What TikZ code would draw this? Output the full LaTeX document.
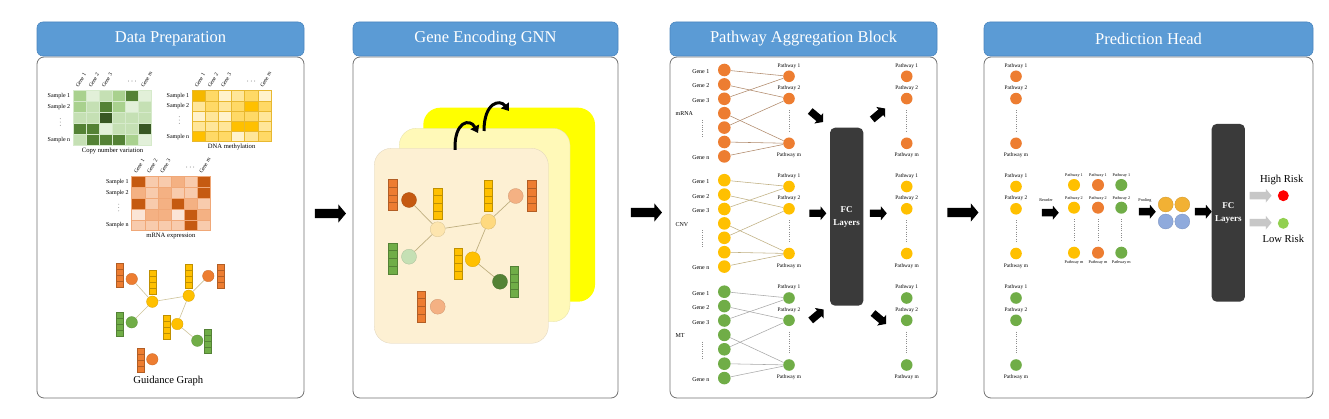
\documentclass[tikz,border=0pt]{standalone}
\usepackage{fontspec}
\setmainfont{Liberation Serif}
\usetikzlibrary{shapes.arrows,arrows.meta,calc}

\definecolor{hdrblue}{HTML}{5B9BD5}
\definecolor{hdredge}{HTML}{4A86C0}
\definecolor{cOr}{HTML}{ED7D31}
\definecolor{cYe}{HTML}{FFC000}
\definecolor{cGr}{HTML}{70AD47}
\definecolor{cnv1}{HTML}{E2F0D9}
\definecolor{cnv2}{HTML}{C5E0B4}
\definecolor{cnv3}{HTML}{A9D18E}
\definecolor{cnv4}{HTML}{548235}
\definecolor{cnv5}{HTML}{385723}
\definecolor{cnvline}{HTML}{D6EACB}
\definecolor{dna1}{HTML}{FFF2CC}
\definecolor{dna2}{HTML}{FFE699}
\definecolor{dna3}{HTML}{FFD966}
\definecolor{dna4}{HTML}{FFC000}
\definecolor{dna5}{HTML}{F5B800}
\definecolor{dnaline}{HTML}{E8B830}
\definecolor{mrna1}{HTML}{FBE5D6}
\definecolor{mrna2}{HTML}{F8CBAD}
\definecolor{mrna3}{HTML}{F4B183}
\definecolor{mrna4}{HTML}{ED7D31}
\definecolor{mrna5}{HTML}{C55A11}
\definecolor{mrnaline}{HTML}{F0A878}
\definecolor{fcgray}{HTML}{3A3A3A}
\definecolor{edgetan}{HTML}{CFC49A}
\definecolor{edgebrown}{HTML}{B0896A}
\definecolor{edgeolive}{HTML}{BFAF80}
\definecolor{edgegray}{HTML}{A8A8A8}
\definecolor{layerback}{HTML}{FFFF00}
\definecolor{layermid}{HTML}{FFF9B8}
\definecolor{layerfront}{HTML}{FDF0D3}
\definecolor{darkor}{HTML}{C55A11}
\definecolor{pinkor}{HTML}{F4B183}
\definecolor{palegr}{HTML}{C5E0B4}
\definecolor{darkgr}{HTML}{548235}
\definecolor{paleye}{HTML}{FDE5AE}
\definecolor{midye}{HTML}{FED97F}
\definecolor{poolgold}{HTML}{F2B134}
\definecolor{poolblue}{HTML}{8FAADC}
\definecolor{riskred}{HTML}{FF0000}
\definecolor{riskgreen}{HTML}{92D050}

\newcommand{\heatmap}[6]{%
  \foreach \rowv [count=\hr] in {#6} {
    \foreach \v [count=\hc] in \rowv {
      \filldraw[fill=#5\v, draw=#5line, line width=0.45pt]
        ({#1+(\hc-1)*#3},{#2+(\hr-1)*#4}) rectangle ++(#3,#4);
    }}%
}
\newcommand{\hmlabels}[6]{%
  \node[lbl, anchor=east] (#1s1) at ({#2-2.5},{#3+0.5*#5}) {Sample 1};
  \node[lbl, anchor=east] (#1s2) at ({#2-2.5},{#3+1.5*#5}) {Sample 2};
  \node[lbl, anchor=east] (#1sn) at ({#2-2.5},{#3+4.5*#5}) {Sample n};
  \foreach \k in {0,1,2} \fill[black!55] ({#2-13},{#3+2.55*#5+\k*3.3}) circle (0.45);
  \node[collbl] (#1c1) at ({#2+0.5*#4-1.5},{#3-2.5}) {Gene 1};
  \node[collbl] (#1c2) at ({#2+1.5*#4-1.5},{#3-2.5}) {Gene 2};
  \node[collbl] (#1c3) at ({#2+2.5*#4-1.5},{#3-2.5}) {Gene 3};
  \node[collbl] (#1cm) at ({#2+5.5*#4-1.5},{#3-2.5}) {Gene m};
  \node[lbl] (#1cd) at ({#2+4.5*#4},{#3-8}) {· · ·};
  \node[caplbl] (#1cap) at ({#2+3*#4},{#3+5*#5+5.5}) {#6};
}
\newcommand{\vbar}[5]{%
  \foreach \k in {0,1,2,3}
    \filldraw[fill=#5, draw=#5!75!black, line width=0.25pt] (#1,{#2+\k*#4/4}) rectangle ++(#3,{#4/4});
}
\newcommand{\pwcol}[4]{%
  \node[pwn, fill=#4] (#11) at (#2,{#3+6.3}) {};
  \node[pwn, fill=#4] (#12) at (#2,{#3+28.6}) {};
  \node[pwn, fill=#4] (#1m) at (#2,{#3+73.3}) {};
  \node[pwlbl] (#1l1) at (#2,{#3-4.2}) {Pathway 1};
  \node[pwlbl] (#1l2) at (#2,{#3+18.3}) {Pathway 2};
  \node[pwlbl] (#1lm) at (#2,{#3+85.7}) {Pathway m};
  \draw[vdots] (#2,{#3+40}) -- (#2,{#3+61});
}
\newcommand{\pwsec}[5]{%
  \foreach \i in {1,...,7} \node[gene, fill=#2] (#1g\i) at (724.3,{#3+14.4*(\i-1)}) {};
  \pwcol{#1p}{789}{#3}{#2}
  \foreach \a/\b in {1/p1,2/p2,3/p1,4/pm,5/p2,6/pm,7/pm}
    \draw[draw=#5, line width=0.55pt] (#1g\a) -- (#1\b);
  \node[lbl, anchor=east] (#1t1) at (710,{#3+1.5}) {Gene 1};
  \node[lbl, anchor=east] (#1t2) at (710,{#3+15.9}) {Gene 2};
  \node[lbl, anchor=east] (#1t3) at (710,{#3+30.6}) {Gene 3};
  \node[lbl, anchor=east] (#1tn) at (710,{#3+87.6}) {Gene n};
  \node[lbl, anchor=west] (#1sec) at (675,{#3+44}) {#4};
  \draw[vdots] (702.7,{#3+50}) -- (702.7,{#3+68});
}
\newcommand{\mcol}[3]{%
  \node[mn, fill=#3] (#11) at (#2,185) {};
  \node[mn, fill=#3] (#12) at (#2,207.7) {};
  \node[mn, fill=#3] (#1m) at (#2,252.7) {};
  \node[tinylbl] (#1l1) at (#2,175) {Pathway 1};
  \node[tinylbl] (#1l2) at (#2,198.3) {Pathway 2};
  \node[tinylbl] (#1lm) at (#2,262.7) {Pathway m};
  \draw[vdots] (#2,219) -- (#2,241);
}

\begin{document}
\begin{tikzpicture}[x=1pt,y=-1pt,
  panelbody/.style={draw=black!55, line width=0.8pt, rounded corners=7pt, fill=white, inner sep=0},
  hdr/.style={draw=hdredge, line width=0.6pt, fill=hdrblue, rounded corners=6pt, text=white,
    font=\fontsize{16.5}{19}\selectfont, inner sep=0, minimum height=34},
  lbl/.style={font=\fontsize{6}{7}\selectfont, inner sep=0.4pt},
  caplbl/.style={font=\fontsize{6.6}{8}\selectfont, inner sep=0.4pt},
  collbl/.style={font=\fontsize{5.4}{6}\selectfont, rotate=60, anchor=base west, inner sep=0.2pt},
  pwlbl/.style={font=\fontsize{5.4}{6}\selectfont, inner sep=0.3pt},
  tinylbl/.style={font=\fontsize{4.2}{5}\selectfont, inner sep=0.2pt},
  circ/.style={circle, inner sep=0, minimum size=11.5, draw=#1!85!black, line width=0.3pt, fill=#1},
  bigcirc/.style={circle, inner sep=0, minimum size=15, draw=#1!85!black, line width=0.3pt, fill=#1},
  gene/.style={circle, inner sep=0, minimum size=12.6},
  pwn/.style={circle, inner sep=0, minimum size=11.6},
  mn/.style={circle, inner sep=0, minimum size=12},
  vdots/.style={draw=black!45, line width=0.6pt, dash pattern=on 0.6pt off 1.7pt},
  bigarrow/.style={single arrow, fill=black, inner xsep=0, inner ysep=4.5pt, minimum height=31,
    single arrow head extend=4.5pt, single arrow tip angle=100},
  smarrow/.style={single arrow, fill=black, inner xsep=0, inner ysep=3.5pt, minimum height=17,
    single arrow head extend=3.2pt, single arrow tip angle=100},
  grayarrow/.style={single arrow, fill=black!22, inner xsep=0, inner ysep=3.5pt, minimum height=22,
    single arrow head extend=3.2pt, single arrow tip angle=100},
  fcbox/.style={fill=fcgray, rounded corners=5pt, inner sep=0, minimum width=33.3, minimum height=178,
    text=white, font=\bfseries\fontsize{9}{13}\selectfont, align=center},
  curvarrow/.style={line width=3pt, -{Triangle[length=7pt,width=9.5pt]}},
  gedge/.style={draw=edgetan, line width=0.6pt},
  g2edge/.style={draw=edgeolive, line width=0.7pt}
]
\useasboundingbox (0,0) rectangle (1329,419);
\fill[white] (0,0) rectangle (1329,419);

% ---------------- panels ----------------
\node[panelbody, minimum width=267, minimum height=341] (b1) at (170.5,227.5) {};
\node[panelbody, minimum width=265, minimum height=341] (b2) at (485.5,227.5) {};
\node[panelbody, minimum width=267, minimum height=341] (b3) at (803.5,227.5) {};
\node[panelbody, minimum width=329, minimum height=341] (b4) at (1148.5,227.5) {};
\node[hdr, minimum width=267] (h1) at (170.5,39) {Data Preparation};
\node[hdr, minimum width=265] (h2) at (485.5,39) {Gene Encoding GNN};
\node[hdr, minimum width=267] (h3) at (803.5,39) {Pathway Aggregation Block};
\node[hdr, minimum width=329] (h4) at (1148.5,39) {Prediction Head};

\node[bigarrow] (a12) at (328.5,213.5) {};
\node[bigarrow] (a23) at (644.5,212.5) {};
\node[bigarrow] (a34) at (961,212.5) {};

% ---------------- panel 1: heatmaps ----------------
\heatmap{73.3}{90.7}{13.07}{11}{cnv}{{3,1,2,3,4,1},{3,2,4,3,1,2},{2,2,5,2,2,2},{4,4,1,2,2,5},{2,4,4,4,3,1}}
\hmlabels{cnv}{73.3}{90.7}{13.07}{11}{Copy number variation}
\heatmap{192.3}{90.7}{13.1}{10.2}{dna}{{5,3,1,2,3,1},{2,3,2,3,4,3},{1,2,1,3,3,2},{2,2,2,4,4,2},{4,3,3,1,2,3}}
\hmlabels{dna}{192.3}{90.7}{13.1}{10.2}{DNA methylation}
\heatmap{131.7}{176.7}{13.05}{10.8}{mrna}{{5,2,2,3,2,5},{3,2,3,2,2,5},{5,2,3,5,3,2},{1,3,3,1,5,3},{2,2,2,2,5,2}}
\hmlabels{mrna}{131.7}{176.7}{13.05}{10.8}{mRNA expression}

% ---------------- panel 1: guidance graph ----------------
\vbar{116}{263}{7}{24}{cOr}
\vbar{149}{270}{7}{24}{cYe}
\vbar{185}{264}{7}{24}{cYe}
\vbar{216.7}{264}{7}{24}{cOr}
\vbar{116}{311.7}{7}{24}{cGr}
\vbar{163}{315}{7}{24}{cYe}
\vbar{204}{329}{7}{24}{cGr}
\vbar{137}{347.7}{7}{24}{cOr}
\node[circ=cOr] (go1) at (131.7,279) {};
\node[circ=cYe] (gy1) at (152.3,301.7) {};
\node[circ=cYe] (gy2) at (188.7,295.7) {};
\node[circ=cOr] (go2) at (208.3,276) {};
\node[circ=cGr] (gg1) at (131.7,322.3) {};
\node[circ=cYe] (gy3) at (177.3,324) {};
\node[circ=cGr] (gg2) at (197.3,340.7) {};
\node[circ=cOr] (go3) at (152.3,359.3) {};
\draw[gedge] (go1) -- (gy1);
\draw[gedge] (gy1) -- (gy2);
\draw[gedge] (gy1) -- (gg1);
\draw[gedge] (gy2) -- (go2);
\draw[gedge] (gy2) -- (gy3);
\draw[gedge] (gy3) -- (gg2);
\node[font=\fontsize{10.6}{12}\selectfont, inner sep=0] (gglab) at (168.3,381) {Guidance Graph};

% ---------------- panel 2: GNN layers ----------------
\fill[layerback, rounded corners=17pt] (423.3,107.7) rectangle (595,301.7);
\filldraw[fill=layermid, draw=layermid!90!black, line width=0.3pt, rounded corners=17pt] (399.3,128.3) rectangle (570,321.7);
\filldraw[fill=layerfront, draw=layerfront!88!black, line width=0.3pt, rounded corners=17pt] (374.3,148.3) rectangle (548.3,343.3);
\coordinate (c1s) at (455,150);
\coordinate (c1e) at (478,133);
\coordinate (c2s) at (484,131);
\coordinate (c2e) at (509,111);
\draw[curvarrow] (c1s) .. controls (454,121) and (470,118) .. (c1e);
\draw[curvarrow] (c2s) .. controls (484,102) and (500,99) .. (c2e);

\vbar{388.3}{179}{8.6}{31.5}{cOr}
\vbar{433.3}{187.7}{8.6}{31.5}{cYe}
\vbar{484}{180}{8.6}{31.5}{cYe}
\vbar{527.3}{180}{8.6}{31.5}{cOr}
\vbar{388.3}{242.7}{8.6}{31.5}{cGr}
\vbar{454}{247.7}{8.6}{31.5}{cYe}
\vbar{510}{266}{8.6}{31.5}{cGr}
\vbar{416.7}{290.7}{8.6}{31.5}{cOr}
\node[bigcirc=darkor] (e1) at (409,200) {};
\node[bigcirc=paleye] (eA) at (437.7,229.3) {};
\node[bigcirc=midye] (eB) at (488.3,221.7) {};
\node[bigcirc=pinkor] (e2) at (515.7,196) {};
\node[bigcirc=palegr] (e3) at (409,256.7) {};
\node[bigcirc=cYe] (eC) at (472.7,259.3) {};
\node[bigcirc=darkgr] (e4) at (500,281.7) {};
\node[bigcirc=pinkor] (e5) at (437.7,306.7) {};
\draw[g2edge] (e1) -- (eA);
\draw[g2edge] (eA) -- (eB);
\draw[g2edge] (eA) -- (e3);
\draw[g2edge] (eB) -- (e2);
\draw[g2edge] (eB) -- (eC);
\draw[g2edge] (eC) -- (e4);

% ---------------- panel 3: pathway aggregation ----------------
\pwsec{m}{cOr}{70}{mRNA}{edgebrown}
\pwsec{c}{cYe}{180.2}{CNV}{edgeolive}
\pwsec{t}{cGr}{291.7}{MT}{edgegray}
\node[fcbox] (fc1) at (846.7,216.7) {FC\\Layers};
\pwcol{mo}{906.7}{70}{cOr}
\pwcol{co}{906.7}{180.2}{cYe}
\pwcol{to}{906.7}{291.7}{cGr}
\node[smarrow, rotate=-40] (ma) at (815.5,115.5) {};
\node[smarrow] (ca) at (816.3,213.3) {};
\node[smarrow, rotate=40] (ta) at (816,316) {};
\node[smarrow, rotate=40] (mb) at (877.5,115) {};
\node[smarrow] (cb) at (876.7,213.3) {};
\node[smarrow, rotate=-40] (tb) at (878.3,317.5) {};

% ---------------- panel 4: prediction head ----------------
\pwcol{mq}{1016}{70}{cOr}
\pwcol{cq}{1016}{180.2}{cYe}
\pwcol{tq}{1016}{291.7}{cGr}
\node[smarrow] (ra) at (1048.7,212.7) {};
\node[tinylbl] (ralab) at (1046,200) {Reorder};
\mcol{xy}{1074}{cYe}
\mcol{xo}{1098}{cOr}
\mcol{xg}{1121.3}{cGr}
\node[smarrow] (pa) at (1145.7,211.7) {};
\node[tinylbl] (palab) at (1145,200) {Pooling};
\node[bigcirc=poolgold] (p1) at (1165.7,204.5) {};
\node[bigcirc=poolgold] (p2) at (1182.3,204.5) {};
\node[bigcirc=poolblue] (p3) at (1165.7,221.5) {};
\node[bigcirc=poolblue] (p4) at (1182.3,221.5) {};
\node[smarrow] (fa) at (1201.7,211.7) {};
\node[fcbox, minimum height=177.7] (fc2) at (1228.3,212.8) {FC\\Layers};
\node[grayarrow] (hra) at (1259,195.7) {};
\node[grayarrow] (lra) at (1259,222.7) {};
\node[circle, inner sep=0, minimum size=11, fill=riskred] (hr) at (1283.3,195.7) {};
\node[circle, inner sep=0, minimum size=11, fill=riskgreen] (lr) at (1283.3,223.3) {};
\node[font=\fontsize{10.6}{12}\selectfont, inner sep=0] (hrl) at (1281.7,180) {High Risk};
\node[font=\fontsize{10.6}{12}\selectfont, inner sep=0] (lrl) at (1283.3,239.3) {Low Risk};
\end{tikzpicture}
\end{document}
